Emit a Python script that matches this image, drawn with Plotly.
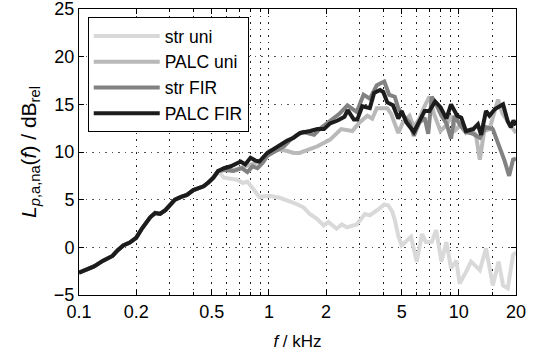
import plotly.graph_objects as go

# shared low-frequency part (kHz, dB)
f_common = [0.1, 0.11, 0.12, 0.134, 0.15, 0.16, 0.171, 0.185, 0.2, 0.215, 0.237, 0.252,
            0.267, 0.285, 0.302, 0.32, 0.345, 0.37, 0.40, 0.43, 0.453, 0.48, 0.51, 0.54]
v_common = [-2.65, -2.3, -2.0, -1.4, -0.9, -0.3, 0.2, 0.5, 1.0, 2.0, 3.15, 3.6,
            3.5, 3.9, 4.5, 5.0, 5.3, 5.5, 6.0, 6.2, 6.4, 6.8, 7.3, 8.0]

f_str_uni = [0.58, 0.68, 0.73, 0.77, 0.83, 0.89, 1.0, 1.14, 1.34, 1.52, 1.64, 1.79, 1.94,
             2.06, 2.27, 2.42, 2.57, 2.9, 3.2, 3.4, 3.78, 4.05, 4.25, 4.45, 4.6, 4.8, 5.0,
             5.4, 5.6, 6.0, 6.4, 6.7, 7.2, 7.6, 8.1, 8.6, 9.1, 9.7, 10.1, 10.9, 11.6, 12.9,
             13.9, 15.1, 16.2, 17.1, 18.1, 19.3, 20]
v_str_uni = [7.3, 7.1, 6.75, 6.9, 6.0, 5.3, 5.4, 5.2, 4.7, 4.2, 3.5, 3.0, 2.3,
             2.65, 1.95, 2.4, 2.1, 2.4, 3.5, 3.35, 4.0, 4.5, 4.4, 3.8, 2.9, 1.2, 0.2,
             0.9, 1.1, -1.5, 1.4, 0.55, 0.55, 1.8, -1.5, 0.55, -2.2, -1.4, -3.8, -2.6, -1.5, -2.4,
             -0.1, -4.0, -1.5, -4.0, -4.3, -0.8, -0.5]

f_palc_uni = [0.58, 0.65, 0.72, 0.8, 0.9, 1.0, 1.1, 1.25, 1.35, 1.45, 1.59, 1.8, 2.1, 2.4,
              2.75, 3.0, 3.3, 3.5, 3.7, 4.2, 4.4, 4.7, 4.8, 5.1, 5.5, 5.8, 6.2, 6.6, 7.0, 7.4,
              8.0, 8.6, 9.1, 9.6, 10.2, 10.9, 11.6, 12.3, 12.9, 13.6, 14.5, 15.3, 16.1, 17.0,
              18.0, 19.0, 20]
v_palc_uni = [8.1, 8.1, 8.4, 8.6, 9.0, 10.1, 10.3, 10.1, 9.9, 9.9, 10.2, 10.6, 11.3, 12.4,
              12.2, 13.1, 13.8, 13.5, 14.6, 14.6, 14.0, 12.5, 12.0, 13.2, 13.8, 12.6, 13.5, 14.8, 15.8, 14.0,
              12.2, 12.8, 13.8, 12.3, 12.8, 12.0, 12.4, 11.8, 9.2, 12.2, 12.4, 14.0, 15.5, 14.0,
              13.3, 12.6, 12.0]

f_str_fir = [0.58, 0.65, 0.72, 0.77, 0.82, 0.87, 0.93, 0.98, 1.1, 1.2, 1.3, 1.41, 1.52, 1.73,
             1.87, 2.1, 2.35, 2.59, 2.9, 3.15, 3.4, 3.7, 4.05, 4.3, 4.6, 4.8, 5.1, 5.5, 5.8,
             6.2, 6.6, 6.9, 7.2, 7.6, 8.1, 8.6, 9.1, 9.5, 10.1, 10.9, 11.9, 12.9, 13.9, 15.1,
             16.4, 17.4, 18.4, 19.3, 20]
v_str_fir = [8.1, 8.0, 8.3, 7.9, 8.5, 8.3, 8.9, 9.6, 10.2, 10.6, 11.3, 11.8, 12.1, 11.8,
             12.5, 13.2, 14.0, 14.9, 14.2, 16.0, 15.6, 17.0, 17.4, 16.0, 15.8, 14.6, 13.8, 13.1, 11.7,
             13.1, 13.6, 11.9, 15.8, 15.0, 13.8, 13.0, 11.4, 13.8, 12.9, 12.1, 11.9, 11.5, 12.6, 12.4,
             10.5, 9.1, 7.5, 9.2, 9.3]

f_palc_fir = [0.58, 0.63, 0.71, 0.75, 0.8, 0.85, 0.89, 0.98, 1.05, 1.15, 1.25, 1.35, 1.46,
              1.65, 1.8, 1.95, 2.1, 2.3, 2.5, 2.6, 2.8, 2.92, 3.1, 3.4, 3.58, 3.85, 4.0, 4.2,
              4.5, 4.8, 5.0, 5.3, 5.8, 6.3, 6.6, 7.0, 7.5, 8.0, 8.6, 9.1, 9.8, 10.3, 10.9, 11.9,
              12.6, 13.1, 13.9, 14.5, 15.5, 17.1, 18.1, 18.8, 19.4, 20]
v_palc_fir = [8.3, 8.5, 9.0, 8.7, 9.4, 9.1, 9.0, 9.9, 10.3, 10.8, 11.2, 11.5, 12.0,
              12.2, 12.4, 12.4, 13.0, 13.3, 13.7, 14.4, 13.4, 13.4, 14.8, 14.6, 16.2, 16.5, 16.3, 15.2,
              14.9, 13.5, 14.3, 13.1, 12.1, 13.5, 14.3, 14.3, 15.3, 14.7, 13.5, 15.0, 13.8, 13.6, 12.2, 12.4,
              12.9, 11.8, 14.3, 13.8, 14.5, 15.0, 13.2, 12.6, 13.3, 12.8]

names = ["str uni", "PALC uni", "str FIR", "PALC FIR"]
colors = ["#d9d9d9", "#b9b9b9", "#828282", "#1c1c1c"]
series = [(f_str_uni, v_str_uni), (f_palc_uni, v_palc_uni),
          (f_str_fir, v_str_fir), (f_palc_fir, v_palc_fir)]

x_ticks = [0.1, 0.2, 0.5, 1, 2, 5, 10, 20]
x_tick_text = ["0.1", "0.2", "0.5", "1", "2", "5", "10", "20"]
x_minor = [0.2, 0.3, 0.4, 0.5, 0.6, 0.7, 0.8, 0.9, 1, 2, 3, 4, 5, 6, 7, 8, 9, 10, 15]
y_ticks = [-5, 0, 5, 10, 15, 20, 25]

fig = go.Figure()
for name, col, (fx, fv) in zip(names, colors, series):
    fig.add_trace(go.Scatter(x=f_common + fx, y=v_common + fv, mode="lines", name=name,
                             line=dict(color=col, width=4)))

font_family = "Liberation Sans, Arial, sans-serif"
grid_dash = "1.5px,5px"
fig.update_layout(
    width=543, height=354,
    margin=dict(l=79, r=27, t=9, b=59, autoexpand=False),
    paper_bgcolor="white", plot_bgcolor="white",
    font=dict(family=font_family, size=18, color="black"),
    showlegend=True,
    legend=dict(x=0.02, y=0.972, xanchor="left", yanchor="top",
                bgcolor="white", bordercolor="black", borderwidth=1,
                font=dict(size=17.5), tracegroupgap=0, itemwidth=66),
    xaxis=dict(type="log", range=[-1, 1.30103], tickvals=x_ticks, ticktext=x_tick_text,
               automargin=False, ticklabeloverflow="allow",
               ticks="inside", ticklen=5, tickcolor="black", showline=True, linecolor="black",
               linewidth=1, mirror="ticks", showgrid=True, gridcolor="#222", griddash=grid_dash,
               gridwidth=1, zeroline=False,
               minor=dict(tickvals=x_minor, ticks="inside", ticklen=3, tickcolor="black",
                          showgrid=True, gridcolor="#222", griddash=grid_dash, gridwidth=1),
               title=dict(text="<i>f</i> / kHz", font=dict(size=17), standoff=14)),
    yaxis=dict(range=[-5, 25], tickvals=y_ticks, ticks="inside", ticklen=5, tickcolor="black",
               automargin=False, ticklabeloverflow="allow",
               showline=True, linecolor="black", linewidth=1, mirror="ticks",
               showgrid=True, gridcolor="#555", griddash=grid_dash, gridwidth=1, zeroline=False,
               title=dict(text="<i>L</i><sub><i>p</i>,a,na</sub>(<i>f</i>) / dB<sub>rel</sub>",
                          font=dict(size=21), standoff=11)),
)

fig.write_html("out.html")
